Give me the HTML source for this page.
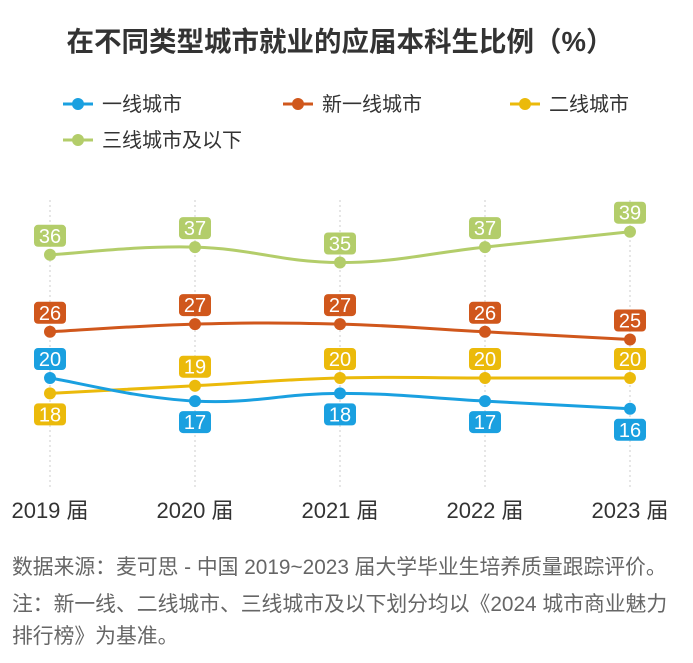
<!DOCTYPE html>
<html><head><meta charset="utf-8">
<style>
body{margin:0;background:#fff;width:693px;height:663px;overflow:hidden;font-family:"Liberation Sans","Noto Sans CJK SC",sans-serif;}
svg{display:block}
</style></head>
<body>
<svg id="chart" width="693" height="663">
<text x="340" y="51" text-anchor="middle" font-size="27.5" font-weight="bold" fill="#333">在不同类型城市就业的应届本科生比例（%）</text>
<g id="legend"></g>
<g id="grid"></g>
<g id="series"></g>
<g id="xaxis"></g>
<text x="12" y="574" font-size="20.8" fill="#666">数据来源：麦可思 - 中国 2019~2023 届大学毕业生培养质量跟踪评价。</text>
<text x="12" y="611" font-size="20.8" fill="#666">注：新一线、二线城市、三线城市及以下划分均以《2024 城市商业魅力</text>
<text x="12" y="643" font-size="20.8" fill="#666">排行榜》为基准。</text>
</svg>
<script>
const categories=["2019 届","2020 届","2021 届","2022 届","2023 届"];
const seriesNames=["一线城市","新一线城市","二线城市","三线城市及以下"];
const tier1=[20,17,18,17,16];
const newTier1=[26,27,27,26,25];
const tier2=[18,19,20,20,20];
const tier3=[36,37,35,37,39];
const colors=["#1aa0e0","#d0571c","#ebba0b","#b3cd6a"];
const labelBelow=[[false,true,true,true,true],[false,false,false,false,false],[true,false,false,false,false],[false,false,false,false,false]];
const NS="http://www.w3.org/2000/svg";
function x(i){return 50+i*145;}
function y(v){return 532-7.7*v;}
function mk(tag,attrs,parent){const e=document.createElementNS(NS,tag);for(const k in attrs)e.setAttribute(k,attrs[k]);parent.appendChild(e);return e;}
const grid=document.getElementById('grid'),xa=document.getElementById('xaxis'),sg=document.getElementById('series'),lg=document.getElementById('legend');
categories.forEach((c,i)=>{
  const l=mk('line',{x1:x(i),x2:x(i),y1:200,y2:490,stroke:'#ccc','stroke-width':1,'stroke-dasharray':'2,3'},grid);
  
  
  const t=mk('text',{x:x(i),y:518,'text-anchor':'middle','font-size':22,fill:'#333'},xa);
  t.textContent=c;
  
  
});
const all=[tier1,newTier1,tier2,tier3];
function pathFor(vals){
  const p=vals.map((v,i)=>[x(i),y(v)]);
  let d='M'+p[0][0]+','+p[0][1];
  for(let i=0;i<p.length-1;i++){
    const p0=p[i-1]||p[i],p1=p[i],p2=p[i+1],p3=p[i+2]||p2;
    const t=0.2;
    const c1=[p1[0]+(p2[0]-p0[0])*t,p1[1]+(p2[1]-p0[1])*t];
    const c2=[p2[0]-(p3[0]-p1[0])*t,p2[1]-(p3[1]-p1[1])*t];
    d+=' C'+c1+' '+c2+' '+p2;
  }
  return d;
}
[3,1,2,0].forEach(s=>{
  const vals=all[s],col=colors[s];
  const g=mk('g',{},sg);
  
  
  const p=mk('path',{d:pathFor(vals),fill:'none',stroke:col,'stroke-width':3},g);
  
  
  vals.forEach((v,i)=>{
    const c=mk('circle',{cx:x(i),cy:y(v),r:6,fill:col},g);
    
    
    const cy=labelBelow[s][i]?y(v)+21:y(v)-19;
    const r=mk('rect',{x:x(i)-16,y:cy-11,width:32,height:22,rx:4,fill:col},g);
    
    
    const t=mk('text',{x:x(i),y:cy+7,'text-anchor':'middle','font-size':20,fill:'#fff'},g);
    t.textContent=v;
    
    
  });
});
const lpos=[[78,104],[298,104],[525,104],[78,140]];
seriesNames.forEach((n,s)=>{
  const [lx,ly]=lpos[s];
  const g=mk('g',{},lg);
  
  
  mk('line',{x1:lx-15,x2:lx+15,y1:ly,y2:ly,stroke:colors[s],'stroke-width':3},g);
  mk('circle',{cx:lx,cy:ly,r:6,fill:colors[s]},g);
  const t=mk('text',{x:lx+24,y:ly+7,'font-size':20,fill:'#333'},g);
  t.textContent=n;
});
</script>
</body></html>
